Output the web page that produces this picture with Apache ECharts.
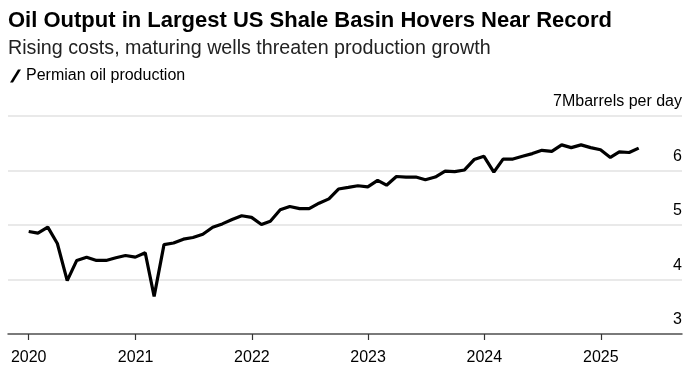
<!DOCTYPE html>
<html>
<head>
<meta charset="utf-8">
<script src="https://cdn.jsdelivr.net/npm/echarts@6/dist/echarts.min.js"></script>
<style>
  html, body { margin: 0; padding: 0; background: #fff; }
  #main { width: 693px; height: 375px; }
</style>
</head>
<body>
<div id="main"></div>
<script>
// 数据：Permian 月度产量（百万桶/日），2020-01 至 2025-04
var startYear = 2020;
var production = [
	4.88, 4.85, 4.96, 4.66, 3.98, 4.35, 4.41, 4.35, 4.35, 4.40, 4.44, 4.41,
	4.49, 3.69, 4.64, 4.67, 4.74, 4.77, 4.83, 4.96, 5.02, 5.10, 5.17, 5.14,
	5.01, 5.07, 5.28, 5.34, 5.30, 5.30, 5.40, 5.48, 5.66, 5.69, 5.72, 5.70,
	5.82, 5.73, 5.89, 5.88, 5.88, 5.83, 5.88, 5.99, 5.98, 6.01, 6.20, 6.26,
	5.97, 6.21, 6.21, 6.26, 6.31, 6.37, 6.35, 6.47, 6.42, 6.47, 6.42, 6.38,
	6.24, 6.34, 6.33, 6.41
];
var yearTicks = ['2020-01-31', '2021-01-01', '2022-01-01', '2023-01-01', '2024-01-01', '2025-01-01'];
var yTicks = [3, 4, 5, 6, 7];

function pad(n) { return n < 10 ? '0' + n : '' + n; }
function ts(s) { return Date.parse(s + 'T00:00:00Z'); }

// 月末日期
var seriesData = [];
for (var i = 0; i < production.length; i++) {
	var y = startYear + Math.floor(i / 12);
	var m = i % 12 + 1;
	var last = new Date(Date.UTC(y, m, 0)).getUTCDate();
	seriesData.push([ts(y + '-' + pad(m) + '-' + pad(last)), production[i]]);
}
var tickValues = yearTicks.map(ts);

var font = 'Liberation Sans';
var myChart = echarts.init(document.getElementById('main'));
var option = {
	animation: false,
	title: {
		text: 'Oil Output in Largest US Shale Basin Hovers Near Record',
		subtext: 'Rising costs, maturing wells threaten production growth',
		left: 3,
		top: 5,
		itemGap: 7,
		textStyle: {
			fontFamily: font,
			fontSize: 22,
			fontWeight: 'bold',
			color: '#000'
		},
		subtextStyle: {
			fontFamily: font,
			fontSize: 19.7,
			color: '#222'
		}
	},
	legend: {
		left: 5,
		top: 63,
		itemWidth: 11,
		itemHeight: 13,
		itemGap: 10,
		icon: 'path://M0,13 L3,13 L11,0 L8,0 Z',
		textStyle: {
			fontFamily: font,
			fontSize: 16,
			color: '#000'
		},
		data: ['Permian oil production']
	},
	grid: {
		left: 8,
		right: 11,
		top: 116,
		bottom: 41
	},
	xAxis: {
		type: 'value',
		min: ts('2019-11-27'),
		max: ts('2025-09-13'),
		axisLine: {
			lineStyle: { color: '#555', width: 1.5 }
		},
		axisTick: {
			show: true,
			length: 6,
			customValues: tickValues,
			lineStyle: { color: '#333', width: 1.2 }
		},
		axisLabel: {
			customValues: tickValues,
			margin: 16,
			fontFamily: font,
			fontSize: 16,
			color: '#000',
			formatter: function(v) {
				return new Date(v).getUTCFullYear() + '';
			}
		},
		splitLine: { show: false }
	},
	yAxis: {
		type: 'value',
		position: 'right',
		min: yTicks[0],
		max: yTicks[yTicks.length - 1],
		interval: 1,
		axisLine: { show: false },
		axisTick: { show: false },
		axisLabel: {
			inside: true,
			margin: 0,
			verticalAlign: 'bottom',
			lineHeight: 16,
			padding: [0, 0, 6, 0],
			fontFamily: font,
			fontSize: 16,
			color: '#000',
			formatter: function(v) {
				return v === 7 ? '7Mbarrels per day' : v + '';
			}
		},
		splitLine: {
			lineStyle: { color: '#e2e2e2', width: 1.5 }
		}
	},
	series: [{
		name: 'Permian oil production',
		type: 'line',
		showSymbol: false,
		data: seriesData,
		lineStyle: { color: '#000', width: 3.2 },
		itemStyle: { color: '#000' }
	}]
};
myChart.setOption(option);
window.addEventListener('resize', function() {
	myChart.resize();
});
</script>
</body>
</html>
